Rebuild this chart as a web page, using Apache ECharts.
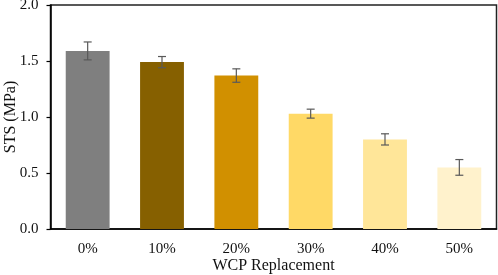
<!DOCTYPE html>
<html><head><meta charset="utf-8">
<script src="https://cdn.jsdelivr.net/npm/echarts@6/dist/echarts.min.js"></script>
<style>html,body{margin:0;padding:0;background:#fff}#c{width:498px;height:275px}</style>
</head><body><div id="c"></div>
<script>
const categories = ['0%', '10%', '20%', '30%', '40%', '50%'];
const stsValues = [1.59, 1.49, 1.37, 1.03, 0.80, 0.55];
const stsErrors = [0.08, 0.05, 0.06, 0.04, 0.05, 0.07];
const barColors = ['#7F7F7F', '#866000', '#D19000', '#FFD966', '#FFE699', '#FFF2CC'];
const yTicks = [0, 0.5, 1.0, 1.5, 2.0];

const chart = echarts.init(document.getElementById('c'), null, {renderer: 'canvas'});
const font = 'Liberation Serif';
chart.setOption({
  animation: false,
  grid: {left: 50.5, right: 1.5, top: 5, bottom: 46, show: true, borderColor: '#222', borderWidth: 1.5,
    containLabel: false, outerBoundsMode: 'none'},
  xAxis: {
    type: 'category', data: categories,
    name: 'WCP Replacement', nameLocation: 'middle', nameGap: 29, nameMoveOverlap: false,
    nameTextStyle: {fontFamily: font, fontSize: 16, color: '#111'},
    axisLine: {show: true, lineStyle: {color: '#000', width: 1.5}},
    axisTick: {show: false},
    axisLabel: {fontFamily: font, fontSize: 15, color: '#111', margin: 13}
  },
  yAxis: {
    type: 'value', min: yTicks[0], max: yTicks[yTicks.length - 1], interval: 0.5,
    name: 'STS (MPa)', nameLocation: 'middle', nameGap: 32, nameMoveOverlap: false,
    nameTextStyle: {fontFamily: font, fontSize: 16, color: '#111'},
    axisLine: {show: true, lineStyle: {color: '#000', width: 1.5}},
    axisTick: {show: true, inside: false, length: 4, lineStyle: {color: '#000', width: 1.2}},
    splitLine: {show: false},
    axisLabel: {fontFamily: font, fontSize: 15, color: '#111', margin: 12,
      formatter: v => v.toFixed(1)}
  },
  series: [
    {
      type: 'bar', barWidth: '59%',
      data: stsValues.map((v, i) => ({value: v, itemStyle: {color: barColors[i]}}))
    },
    {
      type: 'custom',
      data: stsValues.map((v, i) => [i, v - stsErrors[i], v + stsErrors[i]]),
      renderItem: function (params, api) {
        const lo = api.coord([api.value(0), api.value(1)]);
        const hi = api.coord([api.value(0), api.value(2)]);
        const w = 4;
        const style = {stroke: '#595959', lineWidth: 1.2};
        return {type: 'group', children: [
          {type: 'line', shape: {x1: lo[0], y1: lo[1], x2: hi[0], y2: hi[1]}, style},
          {type: 'line', shape: {x1: lo[0] - w, y1: lo[1], x2: lo[0] + w, y2: lo[1]}, style},
          {type: 'line', shape: {x1: hi[0] - w, y1: hi[1], x2: hi[0] + w, y2: hi[1]}, style}
        ]};
      },
      z: 10
    }
  ]
});
</script></body></html>
